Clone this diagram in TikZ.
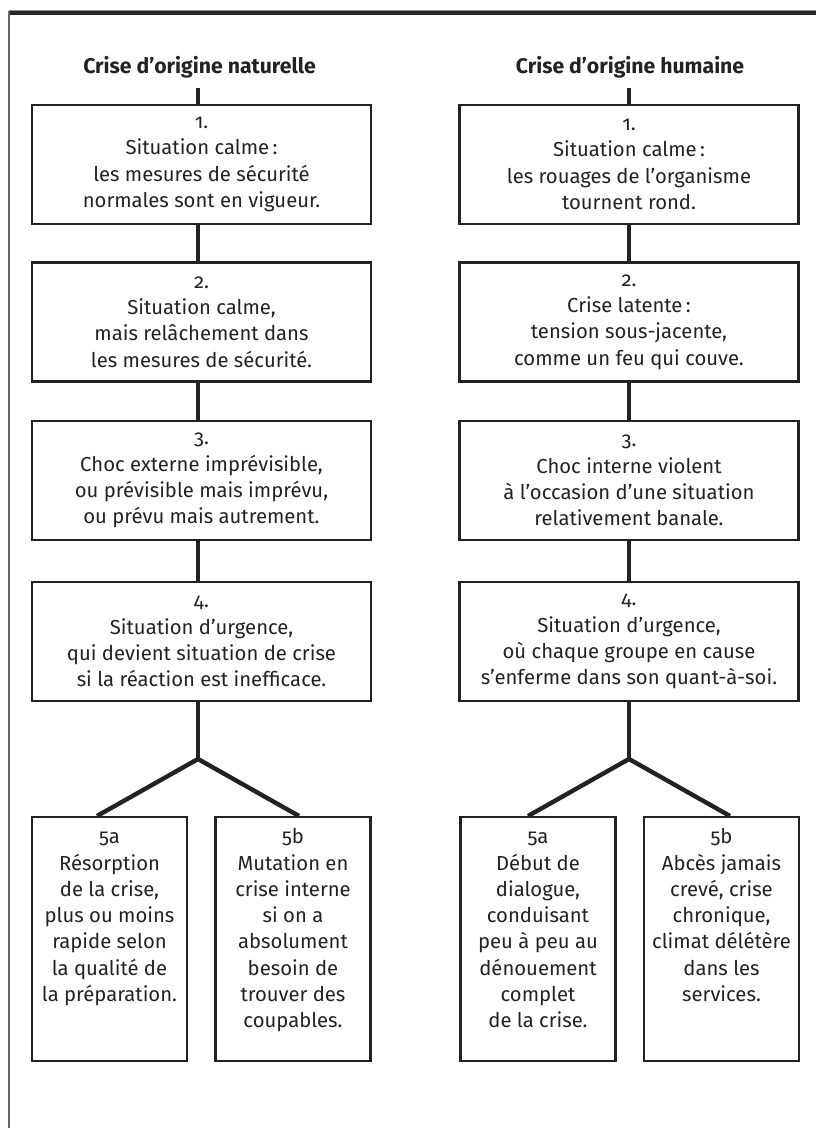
\documentclass[tikz,border=0pt]{standalone}
\usepackage{fontspec}
\setmainfont{Fira Sans}[Numbers=OldStyle]
\newcommand\crisebody{\fontsize{15.2pt}{19.7pt}\selectfont}
\newcommand\crisetitle{\fontsize{15.9pt}{18pt}\selectfont\bfseries}
\definecolor{inkc}{HTML}{222222}
\begin{document}
\begin{tikzpicture}[x=0.75pt,y=-0.75pt,
  stepbox/.style={draw=inkc, line width=1.7pt, inner sep=0pt,
    minimum width=254.25pt, minimum height=89.25pt,
    align=center, text=inkc, font=\crisebody},
  endbox/.style={draw=inkc, line width=1.7pt, inner sep=0pt,
    minimum width=116.25pt, minimum height=183pt},
  endtext/.style={inner sep=0pt, text=inkc, font=\crisebody, anchor=base},
  headline/.style={inner sep=0pt, text=inkc, font=\crisetitle, anchor=base},
  stem/.style={draw=inkc, line width=3.5pt},
  fork/.style={draw=inkc, line width=3.3pt, line join=miter}
]
\useasboundingbox (0,0) rectangle (816,1128);

% page rules
\fill[black!45] (9,9.6) rectangle (816,11);
\fill[black!85] (9,11) rectangle (816,15);
\draw[black!60, line width=0.8pt] (9,11) -- (9,1128);

% ---------- left column ----------
\node[headline] (Lt) at (199.5,73) {Crise d’origine naturelle};
\coordinate (Lx) at (198,88);

\node[stepbox] (Lb1) at (201.5,164.5) {1.\\Situation calme\,:\\les mesures de sécurité\\normales sont en vigueur.};
\node[stepbox] (Lb2) at (201.5,322) {2.\\Situation calme,\\mais relâchement dans\\les mesures de sécurité.};
\node[stepbox] (Lb3) at (201.5,480.5) {3.\\Choc externe imprévisible,\\ou prévisible mais imprévu,\\ou prévu mais autrement.};
\node[stepbox] (Lb4) at (201.5,641.5) {4.\\Situation d’urgence,\\qui devient situation de crise\\si la réaction est inefficace.};

\node[endbox] (L5a) at (109.5,939) {};
\node[endbox] (L5b) at (293,939) {};
\node[endtext] (L5at) at ([yshift=-21pt]L5a.north) {\parbox[t]{116pt}{\centering 5a\\Résorption\\de la crise,\\plus ou moins\\rapide selon\\la qualité de\\la préparation.}};
\node[endtext] (L5bt) at ([yshift=-21pt]L5b.north) {\parbox[t]{116pt}{\centering 5b\\Mutation en\\crise interne\\si on a\\absolument\\besoin de\\trouver des\\coupables.}};

\draw[stem] (Lx) -- (Lb1.north -| Lx);
\draw[stem] (Lb1.south -| Lx) -- (Lb2.north -| Lx);
\draw[stem] (Lb2.south -| Lx) -- (Lb3.north -| Lx);
\draw[stem] (Lb3.south -| Lx) -- (Lb4.north -| Lx);
\coordinate (Lfork) at (198,759);
\coordinate (Lfa) at (97,816);
\coordinate (Lfb) at (299,816);
\draw[stem] (Lb4.south -| Lx) -- (Lfork);
\draw[fork] (Lfa) -- (Lfork) -- (Lfb);

% ---------- right column ----------
\node[headline] (Rt) at (630,73) {Crise d’origine humaine};
\coordinate (Rx) at (629,88);

\node[stepbox] (Rb1) at (629,164.5) {1.\\Situation calme\,:\\les rouages de l’organisme\\tournent rond.};
\node[stepbox] (Rb2) at (629,322) {2.\\Crise latente\,:\\tension sous-jacente,\\comme un feu qui couve.};
\node[stepbox] (Rb3) at (629,480.5) {3.\\Choc interne violent\\à l’occasion d’une situation\\relativement banale.};
\node[stepbox] (Rb4) at (629,641.5) {4.\\Situation d’urgence,\\où chaque groupe en cause\\s’enferme dans son quant-à-soi.};

\node[endbox] (R5a) at (538,939) {};
\node[endbox] (R5b) at (721.5,939) {};
\node[endtext] (R5at) at ([yshift=-21pt]R5a.north) {\parbox[t]{116pt}{\centering 5a\\Début de\\dialogue,\\conduisant\\peu à peu au\\dénouement\\complet\\de la crise.}};
\node[endtext] (R5bt) at ([yshift=-21pt]R5b.north) {\parbox[t]{116pt}{\centering 5b\\Abcès jamais\\crevé, crise\\chronique,\\climat délétère\\dans les\\services.}};

\draw[stem] (Rx) -- (Rb1.north -| Rx);
\draw[stem] (Rb1.south -| Rx) -- (Rb2.north -| Rx);
\draw[stem] (Rb2.south -| Rx) -- (Rb3.north -| Rx);
\draw[stem] (Rb3.south -| Rx) -- (Rb4.north -| Rx);
\coordinate (Rfork) at (629,759);
\coordinate (Rfa) at (528,816);
\coordinate (Rfb) at (730,816);
\draw[stem] (Rb4.south -| Rx) -- (Rfork);
\draw[fork] (Rfa) -- (Rfork) -- (Rfb);
\end{tikzpicture}
\end{document}
